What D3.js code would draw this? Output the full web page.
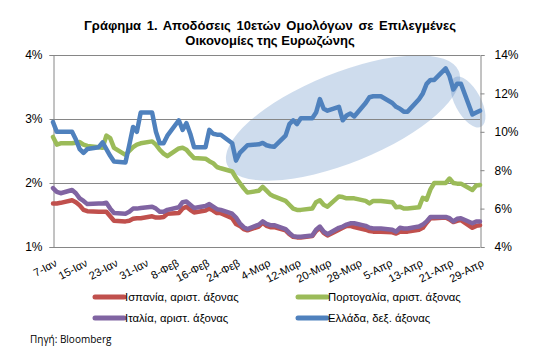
<!DOCTYPE html>
<html>
<head>
<meta charset="utf-8">
<script src="https://cdn.jsdelivr.net/npm/d3@7"></script>
<style>
  html, body { margin: 0; padding: 0; background: #fff; }
  svg { display: block; font-family: "Liberation Sans", Arial, sans-serif; }
</style>
</head>
<body>
<div id="chart"></div>
<script>
// business days, 2015
const days = [
  "01-07","01-08","01-09","01-12","01-13","01-14","01-15","01-16","01-19","01-20",
  "01-21","01-22","01-23","01-26","01-27","01-28","01-29","01-30",
  "02-02","02-03","02-04","02-05","02-06","02-09","02-10","02-11","02-12","02-13",
  "02-16","02-17","02-18","02-19","02-20","02-23","02-24","02-25","02-26","02-27",
  "03-02","03-03","03-04","03-05","03-06","03-09","03-10","03-11","03-12","03-13",
  "03-16","03-17","03-18","03-19","03-20","03-23","03-24","03-25","03-26","03-27",
  "03-30","03-31","04-01","04-02","04-03","04-06","04-07","04-08","04-09","04-10",
  "04-13","04-14","04-15","04-16","04-17","04-20","04-21","04-22","04-23","04-24",
  "04-27","04-28","04-29"
];

const spain = [
  1.68,1.68,1.69,1.73,1.70,1.65,1.58,1.56,1.55,1.55,
  1.55,1.48,1.41,1.40,1.41,1.44,1.45,1.45,
  1.48,1.46,1.46,1.47,1.52,1.53,1.60,1.63,1.58,1.54,
  1.57,1.60,1.57,1.53,1.53,1.45,1.36,1.33,1.28,1.26,
  1.32,1.38,1.33,1.31,1.31,1.26,1.20,1.16,1.15,1.15,
  1.17,1.25,1.30,1.22,1.18,1.27,1.30,1.33,1.33,1.31,
  1.27,1.25,1.24,1.24,1.24,1.23,1.21,1.24,1.24,1.24,
  1.27,1.30,1.38,1.45,1.45,1.46,1.43,1.39,1.41,1.42,
  1.30,1.33,1.34
];

const portugal = [
  2.72,2.60,2.62,2.62,2.63,2.64,2.60,2.58,2.56,2.55,
  2.74,2.70,2.55,2.44,2.50,2.56,2.60,2.62,
  2.65,2.60,2.52,2.46,2.42,2.54,2.55,2.52,2.45,2.39,
  2.38,2.34,2.31,2.25,2.23,2.18,2.08,2.00,1.92,1.85,
  1.88,1.94,1.88,1.82,1.79,1.72,1.66,1.60,1.58,1.58,
  1.60,1.70,1.73,1.66,1.63,1.79,1.78,1.76,1.76,1.76,
  1.72,1.68,1.72,1.72,1.72,1.70,1.62,1.63,1.60,1.60,
  1.62,1.77,1.74,1.90,2.00,2.00,2.07,2.00,1.99,1.99,
  1.89,1.96,1.97
];

const italy = [
  1.92,1.86,1.84,1.89,1.84,1.76,1.72,1.67,1.68,1.68,
  1.69,1.60,1.53,1.52,1.55,1.60,1.60,1.61,
  1.63,1.60,1.55,1.55,1.58,1.62,1.70,1.71,1.66,1.61,
  1.64,1.67,1.63,1.59,1.58,1.52,1.46,1.37,1.31,1.28,
  1.35,1.40,1.36,1.34,1.34,1.28,1.22,1.17,1.16,1.16,
  1.18,1.27,1.32,1.24,1.20,1.30,1.32,1.35,1.37,1.37,
  1.33,1.30,1.29,1.29,1.29,1.27,1.24,1.30,1.29,1.29,
  1.32,1.35,1.40,1.47,1.47,1.47,1.45,1.40,1.44,1.45,
  1.37,1.40,1.40
];

const greece = [
  10.5,10.0,10.0,10.0,9.6,9.1,8.9,9.1,9.2,9.45,
  9.1,8.75,8.45,8.4,9.3,10.25,10.0,11.0,
  11.0,10.0,9.4,9.4,9.8,10.6,10.1,10.45,9.9,9.2,
  9.2,10.1,9.9,9.85,9.85,9.4,8.5,8.9,9.1,9.3,
  9.35,9.42,9.3,9.25,9.22,9.8,10.4,10.6,10.4,10.7,
  10.7,11.0,11.7,11.2,11.1,11.3,10.6,10.85,10.95,10.8,
  11.5,11.8,11.85,11.85,11.85,11.5,11.3,11.2,11.05,11.05,
  11.7,12.0,12.5,12.7,12.7,13.3,12.9,12.2,12.5,12.5,
  10.9,11.0,11.1
];

const seriesNames = ["Ισπανία, αριστ. άξονας", "Πορτογαλία, αριστ. άξονας",
                     "Ιταλία, αριστ. άξονας", "Ελλάδα, δεξ. άξονας"];
const seriesColors = ["#C0504D", "#9BBB59", "#8064A2", "#4F81BD"];

const tickDays = ["01-07","01-15","01-23","01-31","02-08","02-16","02-24","03-04",
                  "03-12","03-20","03-28","04-05","04-13","04-21","04-29"];
const tickLabels = ["7-Ιαν","15-Ιαν","23-Ιαν","31-Ιαν","8-Φεβ","16-Φεβ","24-Φεβ","4-Μαρ",
                    "12-Μαρ","20-Μαρ","28-Μαρ","5-Απρ","13-Απρ","21-Απρ","29-Απρ"];
const leftTicks = [1, 2, 3, 4];
const rightTicks = [4, 6, 8, 10, 12, 14];

const width = 533, height = 351;
const marginLeft = 53, marginRight = 53, marginTop = 55, marginBottom = 104;

const parse = d3.timeParse("%Y-%m-%d");
const toDate = s => parse("2015-" + s);
const X = days.map(toDate);

const xScale = d3.scaleUtc()
    .domain([toDate("01-07"), toDate("04-29")])
    .range([marginLeft, width - marginRight]);
const yLeft = d3.scaleLinear().domain([1, 4]).range([height - marginBottom, marginTop]);
const yRight = d3.scaleLinear().domain([4, 14]).range([height - marginBottom, marginTop]);

const svg = d3.create("svg")
    .attr("width", width)
    .attr("height", height)
    .attr("viewBox", [0, 0, width, height]);

// title
svg.append("text")
    .attr("x", 270).attr("y", 30)
    .attr("text-anchor", "middle")
    .attr("font-size", 13).attr("font-weight", "bold")
    .attr("word-spacing", 2)
    .text("Γράφημα 1. Αποδόσεις 10ετών Ομολόγων σε Επιλεγμένες");
svg.append("text")
    .attr("x", 270).attr("y", 45)
    .attr("text-anchor", "middle")
    .attr("font-size", 13).attr("font-weight", "bold")
    .text("Οικονομίες της Ευρωζώνης");

// highlight ellipses
svg.append("ellipse")
    .attr("cx", 343).attr("cy", 118).attr("rx", 125).attr("ry", 45)
    .attr("transform", "rotate(-22,343,118)")
    .attr("fill", "#4F81BD").attr("fill-opacity", 0.28);
svg.append("ellipse")
    .attr("cx", 468).attr("cy", 102).attr("rx", 28).attr("ry", 13)
    .attr("transform", "rotate(62,468,102)")
    .attr("fill", "#4F81BD").attr("fill-opacity", 0.28);

// grid + frame
svg.append("g")
    .attr("stroke", "#868686").attr("stroke-width", 1)
    .selectAll("line")
    .data(leftTicks)
    .join("line")
    .attr("x1", marginLeft).attr("x2", width - marginRight)
    .attr("y1", d => Math.round(yLeft(d)) + 0.5)
    .attr("y2", d => Math.round(yLeft(d)) + 0.5);

svg.append("g")
    .attr("transform", `translate(${marginLeft + 0.5},0)`)
    .call(d3.axisLeft(yLeft).tickValues(leftTicks).tickFormat(d => d + "%").tickSize(4).tickPadding(7))
    .call(g => g.selectAll("line, path").attr("stroke", "#868686"))
    .call(g => g.selectAll("text").attr("font-size", 12).attr("fill", "#000")
        .attr("font-family", "Liberation Sans, Arial, sans-serif"));

svg.append("g")
    .attr("transform", `translate(${width - marginRight + 0.5},0)`)
    .call(d3.axisRight(yRight).tickValues(rightTicks).tickFormat(d => d + "%").tickSize(4).tickPadding(10))
    .call(g => g.selectAll("line, path").attr("stroke", "#868686"))
    .call(g => g.selectAll("text").attr("font-size", 12).attr("fill", "#000")
        .attr("font-family", "Liberation Sans, Arial, sans-serif"));

// x labels
svg.append("g")
    .selectAll("text")
    .data(tickDays)
    .join("text")
    .attr("transform", d => `translate(${xScale(toDate(d)) + 3},${height - marginBottom + 15}) rotate(-28)`)
    .attr("text-anchor", "end")
    .attr("dy", "0.35em")
    .attr("font-size", 11)
    .text((d, i) => tickLabels[i]);

// lines
const line = y => d3.line()
    .x((d, i) => xScale(X[i]))
    .y(d => y(d));

const series = [
  {values: spain, y: yLeft},
  {values: portugal, y: yLeft},
  {values: italy, y: yLeft},
  {values: greece, y: yRight}
];

svg.append("g")
    .attr("fill", "none")
    .attr("stroke-width", 4.5)
    .attr("stroke-linejoin", "round")
    .attr("stroke-linecap", "round")
    .selectAll("path")
    .data(series)
    .join("path")
    .attr("stroke", (d, i) => seriesColors[i])
    .attr("d", d => line(d.y)(d.values));

// legend
const legend = svg.append("g")
    .selectAll("g")
    .data(seriesNames)
    .join("g")
    .attr("transform", (d, i) => `translate(${i % 2 ? 298 : 95},${i < 2 ? 297 : 318})`);

legend.append("line")
    .attr("x1", 0).attr("x2", 29)
    .attr("stroke", (d, i) => seriesColors[i])
    .attr("stroke-width", 5)
    .attr("stroke-linecap", "round");

legend.append("text")
    .attr("x", 30).attr("dy", "0.35em")
    .attr("font-size", 11.3)
    .text(d => d);

svg.append("text")
    .attr("x", 30).attr("y", 343)
    .attr("font-size", 10)
    .attr("font-family", "Open Sans, sans-serif")
    .text("Πηγή: Bloomberg");

d3.select("#chart").append(() => svg.node());
</script>
</body>
</html>
